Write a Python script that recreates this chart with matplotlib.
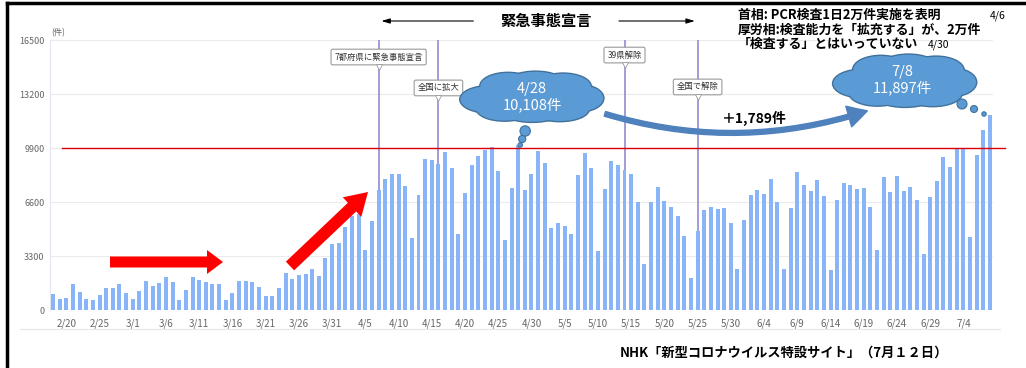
import numpy as np
import pandas as pd
import matplotlib.pyplot as plt
from matplotlib.patches import Ellipse, Circle, FancyArrow, FancyArrowPatch

plt.rcParams['font.family'] = ['Noto Sans CJK JP', 'DejaVu Sans']

# daily PCR test counts (件)
feb_counts = [978, 652, 754, 1569, 1120, 652, 590, 896, 1365, 1365, 1569, 1039]  # 2/18-2/29
mar_counts = [652, 1181, 1752, 1487, 1650, 2037, 1711, 590, 1222, 2037, 1854, 1711,
              1569, 1569, 590, 1039, 1752, 1752, 1711, 1426, 880, 856, 1367, 2285,
              1877, 2122, 2224, 2509, 2081, 3203, 4039]
apr_counts = [4080, 5059, 5733, 5855, 3672, 5447, 7344, 8017, 8323, 8323, 7589, 4386,
              7018, 9221, 9180, 8915, 9649, 8650, 4631, 7120, 8854, 9384, 9751, 9980,
              8480, 4304, 7466, 10108, 7303, 8282]
may_counts = [9690, 8976, 5018, 5304, 5161, 4651, 8242, 9568, 8690, 3631, 7364, 9098,
              8874, 8527, 8282, 6630, 2815, 6589, 7528, 6691, 6324, 5773, 4529, 1958,
              4855, 6100, 6283, 6181, 6222, 5304, 2489]
jun_counts = [5528, 7020, 7304, 7061, 8015, 6614, 2496, 6249, 8420, 7629, 7244, 7933,
              6959, 2455, 6736, 7771, 7629, 7365, 7446, 6310, 3672, 8136, 7203, 8217,
              7244, 7487, 6736, 3449, 6919, 7913]
jul_counts = [9374, 8745, 9861, 9861, 4444, 9475, 10977, 11897]  # 7/1-7/8

counts = feb_counts + mar_counts + apr_counts + may_counts + jun_counts + jul_counts
dates = pd.date_range('2020-02-18', '2020-07-08')
tick_labels = [f'{d.month}/{d.day}' for d in dates]

y_ticks = [0, 3300, 6600, 9900, 13200, 16500]
target_line = 9900

events = ['2020-04-07', '2020-04-16', '2020-05-14', '2020-05-25']
event_labels = ['7都府県に緊急事態宣言', '全国に拡大', '39県解除', '全国で解除']
event_label_y = [15460, 13570, 15580, 13630]

peak_dates = ['2020-04-28', '2020-07-08']
peak_texts = ['4/28\n10,108件', '7/8\n11,897件']

x = np.arange(len(counts))
W, H = 1026, 368

fig = plt.figure(figsize=(W / 100, H / 100), dpi=100)
ax = fig.add_axes([50 / W, (H - 310) / H, 943 / W, 270 / H])

ax.bar(x, counts, width=0.6, color='#8ab4f8', zorder=3)
ax.set_xlim(-0.45, len(counts) - 0.55)
ax.set_ylim(0, 16500)

ax.set_yticks(y_ticks)
ax.set_yticklabels([str(v) for v in y_ticks], fontsize=6.5, color='#666666')
ax.set_xticks(x[2::5])
ax.set_xticklabels(tick_labels[2::5], fontsize=7, color='#666666')
ax.tick_params(axis='both', length=0)
ax.tick_params(axis='x', pad=6)
ax.tick_params(axis='y', pad=4)
ax.grid(axis='y', color='#ebebeb', lw=0.8, zorder=0)
for s in ['top', 'right', 'bottom']:
    ax.spines[s].set_visible(False)
ax.spines['left'].set_color('#e3e6f0')
ax.text(-0.2, 16650, '(件)', fontsize=6, color='#666666', ha='left', va='bottom')

# 9900 line runs slightly past the plot
ax.plot([1.4, 143.3], [target_line, target_line], color='#dd0000', lw=1, clip_on=False, zorder=4)

# event lines with labels
for d, lab, ly in zip(events, event_labels, event_label_y):
    i = dates.get_loc(pd.Timestamp(d))
    ax.vlines(i, 0, 16500, color='#9b94d4', lw=1.3, zorder=2)
    ax.text(i, ly, lab, fontsize=6, color='#333333', ha='center', va='center', zorder=6,
            bbox=dict(boxstyle='round,pad=0.4,rounding_size=0.2', fc='white', ec='#9a9a9a', lw=0.8))
    ax.plot(i, ly - 620, marker='v', ms=5, mfc='white', mec='#9a9a9a', mew=0.6, zorder=7)

# overlay in pixel coordinates for the decorations
ov = fig.add_axes([0, 0, 1, 1], zorder=5)
ov.set_xlim(0, W)
ov.set_ylim(H, 0)
ov.axis('off')


def to_px(xv, yv):
    px, py = ax.transData.transform((xv, yv))
    return px, H - py


def cloud(cx, cy, w, h):
    bumps = [(-0.62, 0.1, 0.42, 0.55), (-0.35, -0.45, 0.4, 0.55), (0.05, -0.55, 0.42, 0.5),
             (0.45, -0.42, 0.4, 0.55), (0.68, 0.05, 0.35, 0.55), (0.4, 0.5, 0.42, 0.5),
             (0.0, 0.55, 0.45, 0.48), (-0.4, 0.5, 0.4, 0.48), (0, 0, 0.7, 0.6)]
    for ec, lw, z in [('#41719c', 2.0, 6), ('#5b9bd5', 0, 7)]:
        for bx, by, rx, ry in bumps:
            ov.add_patch(Ellipse((cx + bx * w / 2, cy + by * h / 2), rx * w, ry * h,
                                 fc='#5b9bd5', ec=ec, lw=lw, zorder=z))


# clouds tied to the peak bars
bx1, _ = to_px(dates.get_loc(pd.Timestamp(peak_dates[0])), 0)
c1x = bx1 + 14
cloud(c1x, 97, 138, 48)
ov.text(c1x, 97, peak_texts[0], color='white', fontsize=10.5, ha='center', va='center',
        linespacing=1.15, zorder=8)
for dx, dy, r in [(-7, 131, 5.2), (-10, 139, 3.6), (-12, 145, 2.2)]:
    ov.add_patch(Circle((c1x + dx, dy), r, fc='#5b9bd5', ec='#41719c', lw=0.8, zorder=7))

bx2, _ = to_px(dates.get_loc(pd.Timestamp(peak_dates[1])), 0)
c2x = bx2 - 85
cloud(c2x, 81, 138, 50)
ov.text(c2x - 3, 80, peak_texts[1], color='white', fontsize=10.5, ha='center', va='center',
        linespacing=1.15, zorder=8)
for dx, dy, r in [(57, 104, 5.0), (69, 109, 3.5), (79, 114, 2.2)]:
    ov.add_patch(Circle((c2x + dx, dy), r, fc='#5b9bd5', ec='#41719c', lw=0.8, zorder=7))

# curved arrow between the two peaks
ov.add_patch(FancyArrowPatch((c1x + 70, 113), (870, 110), connectionstyle='arc3,rad=0.16',
                             arrowstyle='simple,head_length=1,head_width=1.1,tail_width=0.25',
                             mutation_scale=14, color='#4f81bd', zorder=6))
ov.text(722, 118, '＋1,789件', fontsize=10, fontweight='bold', ha='left', va='center', zorder=8)

# red arrows
ov.add_patch(FancyArrow(110, 262, 113, 0, width=11, head_width=24, head_length=16,
                        length_includes_head=True, color='#ff0000', lw=0, zorder=6))
ov.add_patch(FancyArrow(290, 266, 78, -74, width=12, head_width=27, head_length=22,
                        length_includes_head=True, color='#ff0000', lw=0, zorder=6))

# emergency declaration span
e1, _ = to_px(dates.get_loc(pd.Timestamp(events[0])), 0)
e2, _ = to_px(dates.get_loc(pd.Timestamp(events[3])), 0)
em = (e1 + e2) / 2 + 8
ov.text(em, 21, '緊急事態宣言', fontsize=11, fontweight='bold', ha='center', va='center', zorder=8)
ov.annotate('', xy=(e1, 21), xytext=(em - 70, 21),
            arrowprops=dict(arrowstyle='-|>,head_length=0.5,head_width=0.15', color='black', lw=0.8))
ov.annotate('', xy=(e2, 21), xytext=(em + 70, 21),
            arrowprops=dict(arrowstyle='-|>,head_length=0.5,head_width=0.15', color='black', lw=0.8))

# statements, top right
ov.text(738, 15, '首相: PCR検査1日2万件実施を表明', fontsize=9.3, fontweight='bold', va='center', zorder=8)
ov.text(990, 16, '4/6', fontsize=7.5, va='center', zorder=8)
ov.text(738, 30, '厚労相:検査能力を「拡充する」が、2万件', fontsize=9.3, fontweight='bold', va='center', zorder=8)
ov.text(738, 44, '「検査する」とはいっていない', fontsize=9.3, fontweight='bold', va='center', zorder=8)
ov.text(928, 45, '4/30', fontsize=7.5, va='center', zorder=8)

# source
ov.text(620, 353, 'NHK「新型コロナウイルス特設サイト」（7月１２日）', fontsize=9.5,
        fontweight='bold', va='center', zorder=8)

# light rule under the x labels, slide frame
ov.plot([20, 1000], [329, 329], color='#e6e6e6', lw=0.8)
ov.plot([7, 7], [H, 3], color='black', lw=2.5)
ov.plot([7, W], [3, 3], color='black', lw=2.5)

fig.savefig('out.png', dpi=100)
